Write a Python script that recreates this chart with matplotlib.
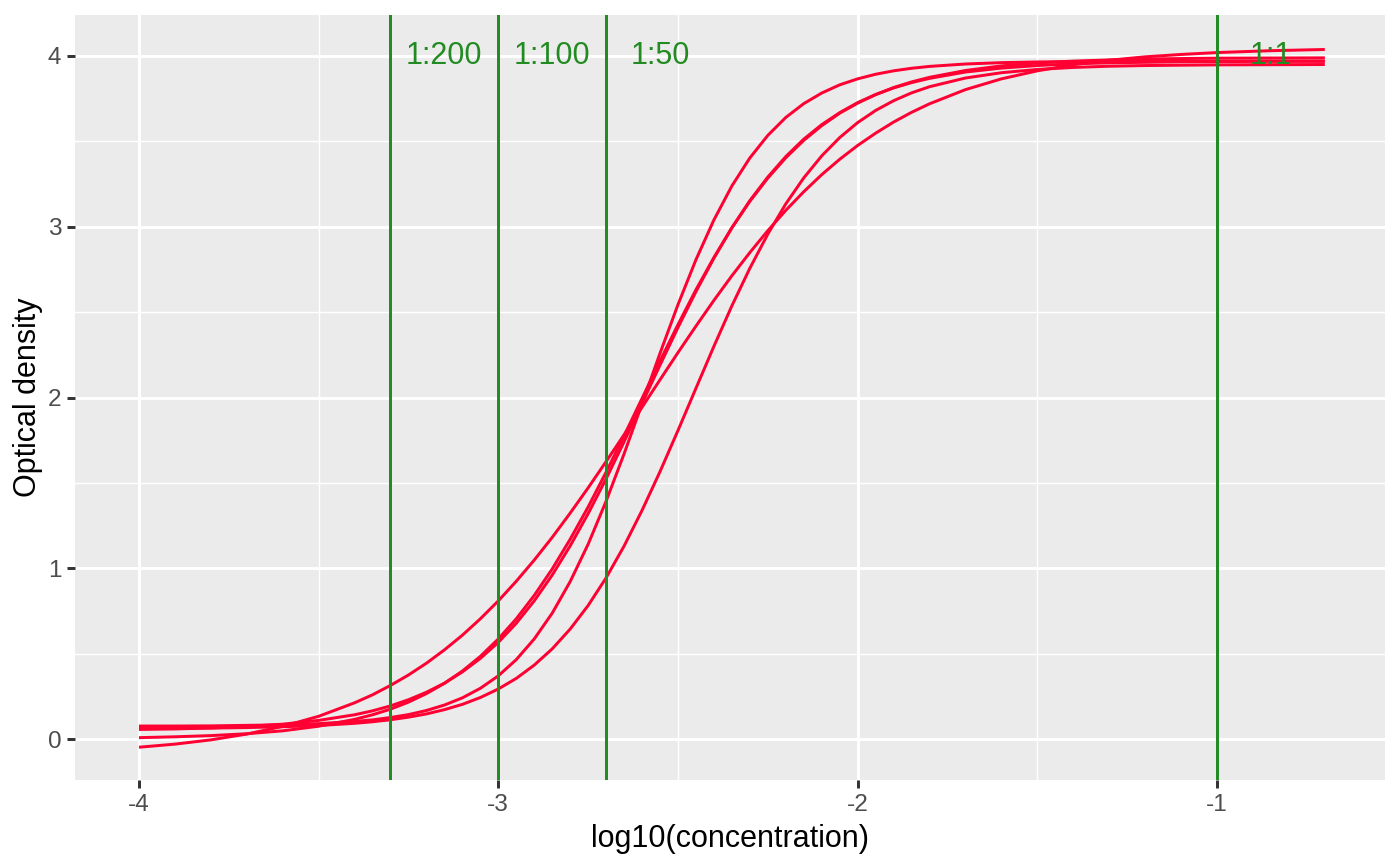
import matplotlib
matplotlib.use("Agg")
import matplotlib.pyplot as plt
from matplotlib.ticker import FixedLocator

# ---- data ----
log_conc = [-4.0, -3.9, -3.8, -3.7, -3.6, -3.5, -3.4, -3.35, -3.3, -3.25, -3.2, -3.15,
            -3.1, -3.05, -3.0, -2.95, -2.9, -2.85, -2.8, -2.75, -2.7, -2.65, -2.6, -2.55,
            -2.5, -2.45, -2.4, -2.35, -2.3, -2.25, -2.2, -2.15, -2.1, -2.05, -2.0, -1.95,
            -1.9, -1.85, -1.8, -1.7, -1.6, -1.5, -1.4, -1.3, -1.2, -1.1, -1.0, -0.85, -0.7]

curve_a = [0.076, 0.076, 0.077, 0.080, 0.083, 0.090, 0.103, 0.112, 0.126, 0.143, 0.167, 0.199,
           0.241, 0.297, 0.370, 0.465, 0.586, 0.737, 0.922, 1.141, 1.393, 1.670, 1.963, 2.259,
           2.544, 2.807, 3.040, 3.239, 3.403, 3.535, 3.640, 3.721, 3.783, 3.831, 3.866, 3.893,
           3.913, 3.928, 3.939, 3.953, 3.961, 3.965, 3.967, 3.968, 3.969, 3.969, 3.970, 3.970, 3.970]
curve_b = [0.008, 0.013, 0.020, 0.031, 0.048, 0.075, 0.115, 0.142, 0.175, 0.216, 0.266, 0.326,
           0.398, 0.484, 0.586, 0.704, 0.841, 0.996, 1.170, 1.359, 1.563, 1.776, 1.995, 2.214,
           2.427, 2.631, 2.820, 2.994, 3.149, 3.285, 3.404, 3.506, 3.592, 3.665, 3.724, 3.774,
           3.815, 3.848, 3.875, 3.915, 3.942, 3.959, 3.970, 3.977, 3.982, 3.985, 3.987, 3.988, 3.989]
curve_c = [0.056, 0.059, 0.065, 0.074, 0.087, 0.109, 0.142, 0.165, 0.194, 0.230, 0.274, 0.327,
           0.393, 0.472, 0.566, 0.678, 0.809, 0.960, 1.131, 1.320, 1.524, 1.741, 1.965, 2.190,
           2.410, 2.620, 2.816, 2.994, 3.153, 3.291, 3.411, 3.513, 3.598, 3.668, 3.727, 3.774,
           3.813, 3.844, 3.869, 3.906, 3.929, 3.944, 3.954, 3.960, 3.963, 3.966, 3.967, 3.969, 3.969]
curve_d = [-0.048, -0.030, -0.005, 0.029, 0.074, 0.133, 0.212, 0.259, 0.314, 0.375, 0.444, 0.522,
           0.608, 0.704, 0.809, 0.924, 1.048, 1.181, 1.323, 1.471, 1.625, 1.782, 1.943, 2.104,
           2.263, 2.418, 2.569, 2.713, 2.849, 2.977, 3.096, 3.205, 3.305, 3.395, 3.476, 3.548,
           3.613, 3.670, 3.720, 3.803, 3.866, 3.913, 3.949, 3.975, 3.995, 4.009, 4.020, 4.031, 4.038]
curve_e = [0.062, 0.063, 0.064, 0.067, 0.072, 0.079, 0.092, 0.101, 0.113, 0.128, 0.147, 0.172,
           0.203, 0.243, 0.293, 0.355, 0.433, 0.528, 0.644, 0.782, 0.944, 1.130, 1.339, 1.566,
           1.807, 2.054, 2.300, 2.537, 2.757, 2.957, 3.134, 3.286, 3.415, 3.522, 3.610, 3.681,
           3.738, 3.784, 3.820, 3.871, 3.902, 3.921, 3.933, 3.940, 3.944, 3.946, 3.948, 3.949, 3.950]

dilution_x = [-3.30103, -3.0, -2.69897, -1.0]
dilution_labels = ["1:200", "1:100", "1:50", "1:1"]
label_y = 4.0
label_offset = 0.15

x_ticks = [-4, -3, -2, -1]
y_ticks = [0, 1, 2, 3, 4]

# ---- style ----
plt.rcParams['font.family'] = ['Liberation Sans', 'DejaVu Sans']
RED = '#FF0033'
GREEN = '#228B22'
LW = 1.07

fig = plt.figure(figsize=(7, 4.325), dpi=200)
ax = fig.add_axes([75/1400, 1-780/865, (1385-75)/1400, (780-15)/865])
ax.set_facecolor('#EBEBEB')

curves = [curve_a, curve_b, curve_c, curve_d, curve_e]
for ys in curves:
    ax.plot(log_conc, ys, color=RED, lw=LW, solid_capstyle='butt',
            solid_joinstyle='round', zorder=3)

for xv in dilution_x:
    ax.axvline(xv, color=GREEN, lw=LW, zorder=4)
for xv, lab in zip(dilution_x, dilution_labels):
    ax.text(xv + label_offset, label_y, lab, color=GREEN, fontsize=11,
            ha='center', va='center', zorder=5)

ax.set_xlim(-4.178, -0.5325)
ax.set_ylim(-0.240, 4.240)
ax.xaxis.set_major_locator(FixedLocator(x_ticks))
ax.yaxis.set_major_locator(FixedLocator(y_ticks))
ax.xaxis.set_minor_locator(FixedLocator([-3.5, -2.5, -1.5]))
ax.yaxis.set_minor_locator(FixedLocator([0.5, 1.5, 2.5, 3.5]))
ax.set_xticklabels([str(v) for v in x_ticks])
ax.set_yticklabels([str(v) for v in y_ticks])

ax.grid(which='major', color='white', lw=LW, zorder=1)
ax.grid(which='minor', color='white', lw=LW/2, zorder=1)
ax.set_axisbelow(True)
for s in ax.spines.values():
    s.set_visible(False)

ax.tick_params(which='major', length=2.75, width=LW, color='#333333',
               labelcolor='#4D4D4D', labelsize=8.8, pad=2.2)
ax.tick_params(which='minor', length=0)

ax.set_xlabel('log10(concentration)', fontsize=11, color='black', labelpad=3)
ax.set_ylabel('Optical density', fontsize=11, color='black', labelpad=1.5)

fig.savefig('out.png', dpi=200, facecolor='white')
